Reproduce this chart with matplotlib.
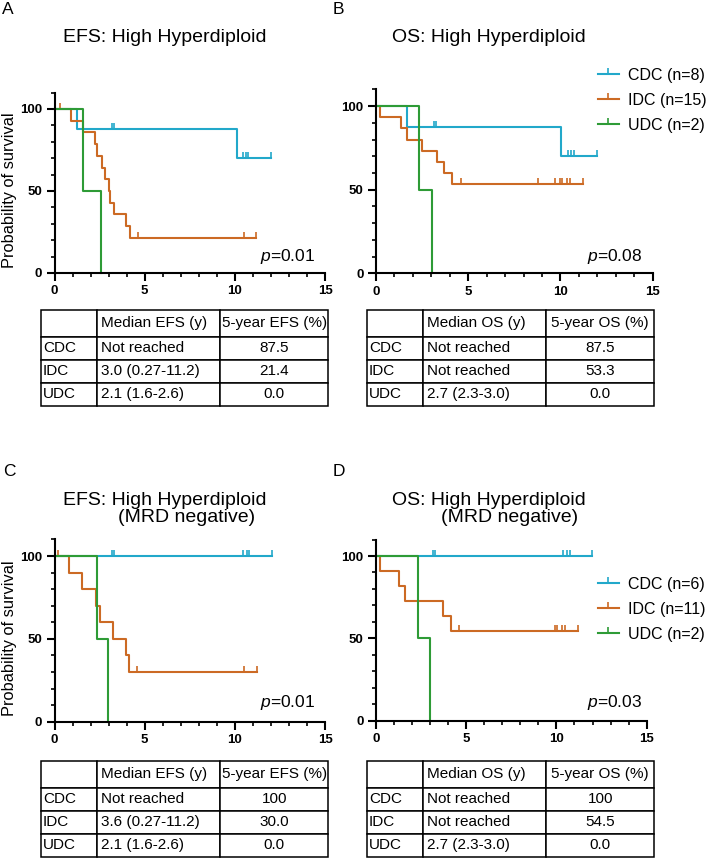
# Kaplan-Meier curves (EFS / OS) for High Hyperdiploid, with summary tables
import numpy as np
import matplotlib.pyplot as plt
from matplotlib.lines import Line2D
from matplotlib.table import Table

plt.rcParams['font.family'] = ['Liberation Sans', 'DejaVu Sans']
plt.rcParams['mathtext.fontset'] = 'custom'
plt.rcParams['mathtext.it'] = 'Liberation Sans:italic'
plt.rcParams['mathtext.rm'] = 'Liberation Sans'

groups = ['CDC', 'IDC', 'UDC']
colors = ['#22A8CA', '#CC6A24', '#2E9B36']

# event times and censored times (years)
a_events = [[1.24, 10.1],
            [0.9, 1.57, 2.22, 2.38, 2.62, 2.8, 3.0, 3.08, 3.3, 3.97, 4.16],
            [1.6, 2.6]]
a_censored = [[3.2, 3.3, 10.45, 10.6, 10.75, 12.0],
              [0.3, 4.62, 10.5, 11.2],
              []]

b_events = [[1.66, 10.03],
            [0.22, 1.36, 1.66, 2.48, 3.33, 3.69, 4.1],
            [2.33, 3.02]]
b_censored = [[3.15, 3.25, 10.4, 10.57, 10.75, 12.0],
              [4.59, 8.8, 9.7, 9.98, 10.07, 10.34, 10.5, 11.2],
              []]

c_events = [[],
            [0.81, 1.51, 2.31, 2.53, 3.23, 3.97, 4.12],
            [2.35, 2.99]]
c_censored = [[3.18, 3.28, 10.47, 10.66, 10.8, 12.04],
              [0.22, 4.56, 10.53, 11.21],
              []]

d_events = [[],
            [0.22, 1.29, 1.61, 3.69, 4.16],
            [2.31, 2.99]]
d_censored = [[3.15, 3.25, 10.38, 10.57, 10.75, 11.99],
              [4.6, 9.92, 10.01, 10.29, 10.47, 11.18],
              []]

b_labels = ['CDC (n=8)', 'IDC (n=15)', 'UDC (n=2)']
d_labels = ['CDC (n=6)', 'IDC (n=11)', 'UDC (n=2)']
p_values = ['0.01', '0.08', '0.01', '0.03']

# tables
efs_header = ['', 'Median EFS (y)', '5-year EFS (%)']
os_header = ['', 'Median OS (y)', '5-year OS (%)']
a_median = ['Not reached', '3.0 (0.27-11.2)', '2.1 (1.6-2.6)']
a_5yr = ['87.5', '21.4', '0.0']
b_median = ['Not reached', 'Not reached', '2.7 (2.3-3.0)']
b_5yr = ['87.5', '53.3', '0.0']
c_median = ['Not reached', '3.6 (0.27-11.2)', '2.1 (1.6-2.6)']
c_5yr = ['100', '30.0', '0.0']
d_median = ['Not reached', 'Not reached', '2.7 (2.3-3.0)']
d_5yr = ['100', '54.5', '0.0']


def km_steps(events, censored):
    times = sorted(set(events) | set(censored))
    n = len(events) + len(censored)
    s = 100.0
    xs, ys, cx, cy = [0], [100.0], [], []
    for t in times:
        d = events.count(t)
        c = censored.count(t)
        if d:
            new = s * (1 - d / n)
            xs += [t, t]
            ys += [s, new]
            s = new
        if c:
            cx += [t] * c
            cy += [s] * c
        n -= d + c
    if xs[-1] < times[-1]:
        xs.append(times[-1])
        ys.append(s)
    return xs, ys, cx, cy


def style_axes(ax):
    ax.set_xlim(0, 15)
    ax.set_ylim(0, 110)
    ax.set_xticks([0, 5, 10, 15])
    ax.set_xticks(np.arange(0, 16, 1), minor=True)
    ax.set_yticks([0, 50, 100])
    ax.set_yticks(np.arange(0, 111, 10), minor=True)
    for s in ['top', 'right']:
        ax.spines[s].set_visible(False)
    for s in ['left', 'bottom']:
        ax.spines[s].set_linewidth(1.5)
    ax.tick_params(which='major', length=6, width=1.5, labelsize=9.5, pad=3)
    ax.tick_params(which='minor', length=3, width=1.2)
    for lbl in ax.get_xticklabels() + ax.get_yticklabels():
        lbl.set_fontweight('bold')


def draw_km(ax, events, censored):
    for ev, ce, col in zip(events, censored, colors):
        xs, ys, cx, cy = km_steps(ev, ce)
        ax.plot(xs, ys, color=col, lw=1.5, clip_on=False)
        ax.plot(cx, cy, ls='none', marker=2, ms=4, mew=1.2, color=col, clip_on=False)


def draw_table(rect, header, median, five):
    ax_t = fig.add_axes(rect)
    ax_t.axis('off')
    tab = Table(ax_t, bbox=[0, 0, 1, 1])
    col_w = [0.195, 0.43, 0.375]
    row_h = [0.28, 0.24, 0.24, 0.24]
    rows = [header] + [[g, m, f] for g, m, f in zip(groups, median, five)]
    for r, row in enumerate(rows):
        for c, txt in enumerate(row):
            cell = tab.add_cell(r, c, width=col_w[c], height=row_h[r], text=txt,
                                loc='center' if c == 2 else 'left')
            cell.PAD = 0.035
            cell.set_linewidth(1.1)
            cell.get_text().set_fontsize(11)
    tab.auto_set_font_size(False)
    ax_t.add_table(tab)


W, H = 709, 859
fig = plt.figure(figsize=(7.09, 8.59), dpi=100)

ax_a = fig.add_axes([0.0769, 0.6822, 0.3815, 0.2100])
ax_b = fig.add_axes([0.5303, 0.6818, 0.3903, 0.2142])
ax_c = fig.add_axes([0.0769, 0.1598, 0.3815, 0.2122])
ax_d = fig.add_axes([0.5303, 0.1610, 0.3818, 0.2109])

draw_km(ax_a, a_events, a_censored)
draw_km(ax_b, b_events, b_censored)
draw_km(ax_c, c_events, c_censored)
draw_km(ax_d, d_events, d_censored)
for ax in [ax_a, ax_b, ax_c, ax_d]:
    style_axes(ax)

# panel letters
for letter, (x, y) in zip('ABCD', [(2, 2), (333, 2), (3, 464), (333, 464)]):
    fig.text(x / W, 1 - y / H, letter, fontsize=12.5, ha='left', va='top')

# titles
fig.text(165 / W, 1 - 37 / H, 'EFS: High Hyperdiploid', fontsize=14, ha='center', va='center')
fig.text(489 / W, 1 - 37 / H, 'OS: High Hyperdiploid', fontsize=14, ha='center', va='center')
fig.text(165 / W, 1 - 500 / H, 'EFS: High Hyperdiploid', fontsize=14, ha='center', va='center')
fig.text(187 / W, 1 - 518 / H, '(MRD negative)', fontsize=14, ha='center', va='center')
fig.text(489 / W, 1 - 500 / H, 'OS: High Hyperdiploid', fontsize=14, ha='center', va='center')
fig.text(510 / W, 1 - 518 / H, '(MRD negative)', fontsize=14, ha='center', va='center')

# y labels
fig.text(10 / W, 1 - 190 / H, 'Probability of survival', fontsize=11.8, rotation=90,
         ha='center', va='center')
fig.text(10 / W, 1 - 638 / H, 'Probability of survival', fontsize=11.8, rotation=90,
         ha='center', va='center')

# p values
for p, (x, y) in zip(p_values, [(315, 257), (642, 257), (315, 703), (642, 703)]):
    fig.text(x / W, 1 - y / H, r'$\it{p}$=' + p, fontsize=12.5, ha='right', va='center')

# legends
for ax, labels, top in [(ax_b, b_labels, 68), (ax_d, d_labels, 577)]:
    handles = [Line2D([0], [0], color=c, lw=1.5, marker=2, ms=4, mew=1.2) for c in colors]
    ax.legend(handles, labels, loc='upper left', bbox_to_anchor=(598 / W, 1 - top / H),
              bbox_transform=fig.transFigure, frameon=False, fontsize=11.5,
              handlelength=1.3, handletextpad=0.6, borderpad=0, borderaxespad=0,
              labelspacing=0.62)

# tables
draw_table([41 / W, 1 - 406 / H, 287 / W, 96 / H], efs_header, a_median, a_5yr)
draw_table([367 / W, 1 - 406 / H, 287 / W, 96 / H], os_header, b_median, b_5yr)
draw_table([41 / W, 1 - 857 / H, 287 / W, 96 / H], efs_header, c_median, c_5yr)
draw_table([367 / W, 1 - 857 / H, 287 / W, 96 / H], os_header, d_median, d_5yr)

fig.savefig('out.png', dpi=100)
